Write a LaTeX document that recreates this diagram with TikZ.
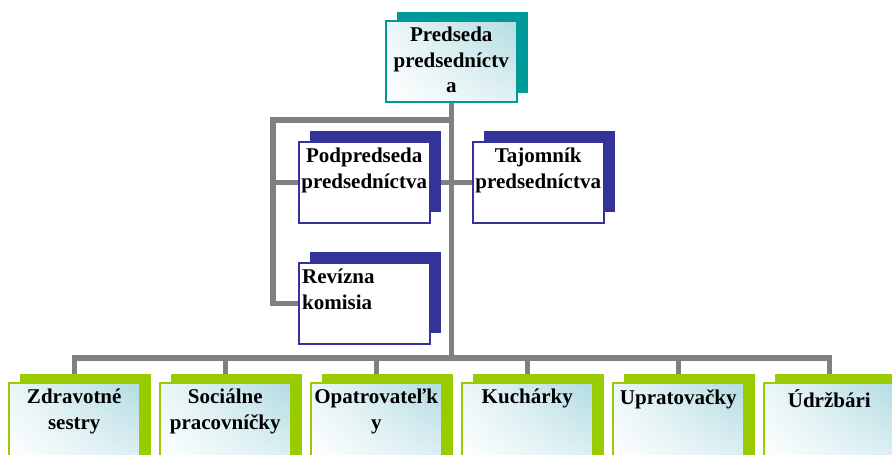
\documentclass[tikz,border=0pt]{standalone}
\usepackage{fontspec}
\setmainfont{Liberation Serif}
\usetikzlibrary{shadows,shadings,backgrounds}
\definecolor{tealC}{RGB}{0,153,153}
\definecolor{navyC}{RGB}{51,51,153}
\definecolor{greenC}{RGB}{153,204,0}
\definecolor{lineC}{RGB}{128,128,128}
\definecolor{paleC}{RGB}{178,220,226}
\tikzset{
  box/.style={rectangle, anchor=north west, minimum width=131pt, minimum height=81pt, inner sep=0pt, line width=1.5pt},
  shade box/.style={box, draw=#1, upper left=white!75!paleC, upper right=paleC,
    lower left=white, lower right=white!60!paleC,
    drop shadow={shadow xshift=11pt, shadow yshift=9pt, fill=#1, opacity=1}},
  plain box/.style={box, draw=#1, fill=white,
    drop shadow={shadow xshift=11pt, shadow yshift=11pt, fill=#1, opacity=1}},
  lbl/.style={anchor=north, align=center, inner sep=0pt, yshift=-7pt, font=\bfseries\fontsize{21}{25.5}\selectfont},
  conn/.style={draw=lineC, line width=5.5pt, line cap=rect}
}
\begin{document}
\begin{tikzpicture}[x=1pt,y=-1pt]
\useasboundingbox (0,0) rectangle (892,455);
\clip (0,0) rectangle (892,455);

\node[shade box=tealC, label={[lbl]north:{Predseda\\predsedníctv\\a}}] (chair) at (385,20) {};
\node[plain box=navyC, label={[lbl]north:{Podpredseda\\predsedníctva}}] (vice) at (298,141) {};
\node[plain box=navyC, label={[lbl]north:{Tajomník\\predsedníctva}}] (secr) at (472,141) {};
\node[plain box=navyC, label={[lbl,anchor=north west,align=left,xshift=4pt]north west:{Revízna\\komisia}}] (audit) at (298,262) {};

\foreach \n/\txt [count=\i from 0] in {nurse/{Zdravotné\\sestry}, social/{Sociálne\\pracovníčky},
    carer/{Opatrovateľk\\y}, cook/Kuchárky, clean/Upratovačky, maint/Údržbári} {
    \node[shade box=greenC, label={[lbl]north:{\txt}}] (\n) at ({8+151*\i},382) {};
}

\coordinate (bus) at (0,358);
\coordinate (jL) at (273,120);
\begin{scope}[on background layer]
\draw[conn] (chair.south) -- (chair.south |- bus);
\draw[conn] (chair.south |- jL) -- (jL) |- (audit.west);
\draw[conn] (jL |- vice.west) -- (secr.west);
\draw[conn] (bus -| nurse.north) -- (bus -| maint.north);
\foreach \n in {nurse,social,carer,cook,clean,maint} {
    \draw[conn] (bus -| \n.north) -- (\n.north);
}
\end{scope}
\end{tikzpicture}
\end{document}
